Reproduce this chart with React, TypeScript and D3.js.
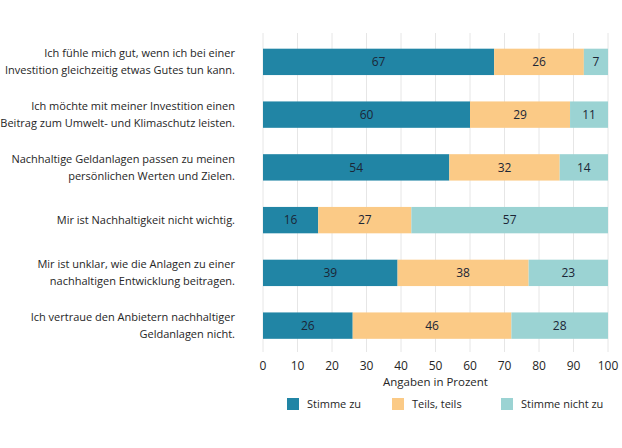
import React from "react";
import * as d3 from "d3";

const categories = [
  ["Ich fühle mich gut, wenn ich bei einer", "Investition gleichzeitig etwas Gutes tun kann."],
  ["Ich möchte mit meiner Investition einen", "Beitrag zum Umwelt- und Klimaschutz leisten."],
  ["Nachhaltige Geldanlagen passen zu meinen", "persönlichen Werten und Zielen."],
  ["Mir ist Nachhaltigkeit nicht wichtig."],
  ["Mir ist unklar, wie die Anlagen zu einer", "nachhaltigen Entwicklung beitragen."],
  ["Ich vertraue den Anbietern nachhaltiger", "Geldanlagen nicht."],
];
const stimmeZu = [67, 60, 54, 16, 39, 26];
const teilsTeils = [26, 29, 32, 27, 38, 46];
const stimmeNichtZu = [7, 11, 14, 57, 23, 28];
const seriesNames = ["Stimme zu", "Teils, teils", "Stimme nicht zu"];
const seriesColors = ["#2185a5", "#fbca86", "#9bd3d3"];
const xTicks = [0, 10, 20, 30, 40, 50, 60, 70, 80, 90, 100];
const xTitle = "Angaben in Prozent";

const FONT = "'Open Sans', 'Noto Sans', sans-serif";

export default function App() {
  const W = 622, H = 448;
  const x = d3.scaleLinear().domain([0, 100]).range([263, 608]);
  const y = d3.scaleBand<number>().domain(d3.range(categories.length)).range([35.5, 352]).paddingInner(0.5).paddingOuter(0.25);
  const series = [stimmeZu, teilsTeils, stimmeNichtZu];
  const rows = categories.map((_, i) => {
    let acc = 0;
    return series.map((s, k) => {
      const x0 = acc;
      acc += s[i];
      return { k, x0, x1: acc, v: s[i] };
    });
  });
  const legendX = [287, 392, 501];
  const fs = 11;
  const fsNum = 12;
  const ink = "#262626";
  return (
    <svg width={W} height={H} style={{ position: "absolute", left: 0, top: 0, background: "#fff" }} fontFamily={FONT}>
      {xTicks.map((t) => (
        <line key={t} x1={x(t)} x2={x(t)} y1={33} y2={352} stroke="#e6e6e6" strokeWidth={1} />
      ))}
      {rows.map((segs, i) => (
        <g key={i}>
          {segs.map((s) => (
            <g key={s.k}>
              <rect x={x(s.x0)} y={y(i)} width={x(s.x1) - x(s.x0)} height={y.bandwidth()} fill={seriesColors[s.k]} />
              <text x={(x(s.x0) + x(s.x1)) / 2} y={y(i)! + y.bandwidth() / 2} dy="0.35em" textAnchor="middle" fontSize={fsNum} fill="#1b2636">
                {s.v}
              </text>
            </g>
          ))}
        </g>
      ))}
      {categories.map((lines, i) => {
        const cy = y(i)! + y.bandwidth() / 2;
        const lh = 17;
        const start = cy - ((lines.length - 1) * lh) / 2;
        return (
          <text key={i} textAnchor="end" fontSize={fs} fill={ink}>
            {lines.map((l, j) => (
              <tspan key={j} x={235} y={start + j * lh} dy="0.35em">{l}</tspan>
            ))}
          </text>
        );
      })}
      {xTicks.map((t) => (
        <text key={t} x={x(t)} y={366} dy="0.35em" textAnchor="middle" fontSize={fsNum} fill={ink}>{t}</text>
      ))}
      <text x={x(50)} y={382} dy="0.35em" textAnchor="middle" fontSize={11.5} fill={ink}>{xTitle}</text>
      {seriesNames.map((n, k) => (
        <g key={n}>
          <rect x={legendX[k]} y={398} width={12} height={12} fill={seriesColors[k]} />
          <text x={legendX[k] + 20} y={404} dy="0.35em" fontSize={fs} fill={ink}>{n}</text>
        </g>
      ))}
    </svg>
  );
}
